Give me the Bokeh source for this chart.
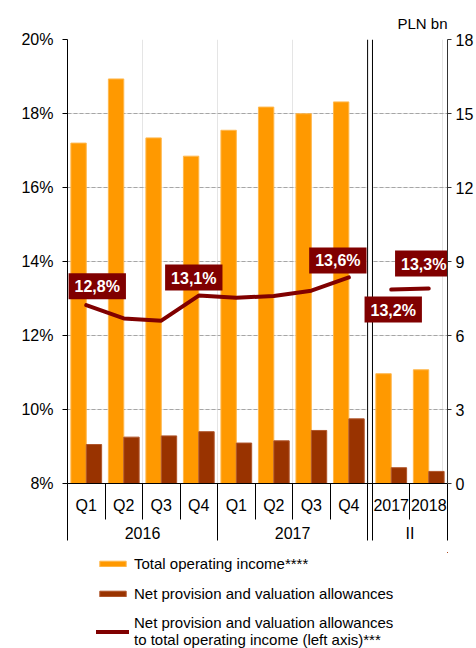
from bokeh.plotting import figure
from bokeh.layouts import column
from bokeh.models import (ColumnDataSource, Range1d, LinearAxis, FixedTicker, Span,
                          BoxAnnotation, Legend, LegendItem, Grid, PrintfTickFormatter)
from bokeh.embed import file_html
from bokeh.resources import INLINE
from bokeh.core.properties import value

# ---------------- data ----------------
periods = ["Q1", "Q2", "Q3", "Q4", "Q1", "Q2", "Q3", "Q4", "2017", "2018"]
groups = ["2016", "2016", "2016", "2016", "2017", "2017", "2017", "2017", "II", "II"]
panels = [0, 0, 0, 0, 0, 0, 0, 0, 1, 1]
income = [13.80, 16.40, 14.01, 13.27, 14.32, 15.26, 14.99, 15.47, 4.45, 4.61]      # PLN bn
provisions = [1.58, 1.88, 1.93, 2.10, 1.64, 1.73, 2.15, 2.62, 0.64, 0.49]          # PLN bn
ratio = [12.82, 12.46, 12.40, 13.08, 13.02, 13.07, 13.21, 13.57, 13.24, 13.27]     # %
labelled = [0, 3, 7, 8, 9]
pct_ticks = [8, 10, 12, 14, 16, 18, 20]
bn_ticks = [0, 3, 6, 9, 12, 15, 18]

legend_labels = ["Total operating income****",
                 "Net provision and valuation allowances",
                 "Net provision and valuation allowances\nto total operating income (left axis)***"]

# ---------------- layout helpers ----------------
GAP = 0.13
BAR_W = 0.41
FONT = "Liberation Sans"
ORANGE = "#FF9900"
BROWN = "#993300"
MAROON = "#800000"
ORANGE_EDGE = "#FFB84D"
BROWN_EDGE = "#B0552A"

n = len(periods)
left_e = [i + GAP * pn for i, pn in enumerate(panels)]
right_e = [l + 1 for l in left_e]
centers = [l + 0.5 for l in left_e]
cat_edges = sorted(set(left_e + right_e))

group_names = []
for g in groups:
    if g not in group_names:
        group_names.append(g)
group_edges, group_centers = set(), []
for g in group_names:
    idx = [i for i in range(n) if groups[i] == g]
    lo, hi = left_e[idx[0]], right_e[idx[-1]]
    group_edges.update([lo, hi])
    group_centers.append((lo + hi) / 2)
group_edges = sorted(group_edges)
panel_break = (max(right_e[i] for i in range(n) if panels[i] == 0),
               min(left_e[i] for i in range(n) if panels[i] == 1))

src = ColumnDataSource(dict(
    x_inc=[c - BAR_W / 2 for c in centers],
    x_prov=[c + BAR_W / 2 for c in centers],
    income=income, provisions=provisions))

p = figure(width=476, height=552, output_backend="svg", toolbar_location=None,
           x_range=Range1d(0, right_e[-1]), y_range=Range1d(pct_ticks[0], pct_ticks[-1]),
           x_axis_location=None, y_axis_location=None,
           min_border_left=67, min_border_right=27, min_border_top=39, min_border_bottom=69,
           outline_line_color=None, background_fill_color="white", border_fill_color="white")
p.extra_y_ranges = {"bn": Range1d(bn_ticks[0], bn_ticks[-1])}

# grid
p.add_layout(Grid(dimension=1, ticker=FixedTicker(ticks=pct_ticks),
                  grid_line_color="#A6A6A6", grid_line_dash="4 2", grid_line_width=1))
# panel gap
p.add_layout(BoxAnnotation(left=panel_break[0], right=panel_break[1], fill_color="white",
                           fill_alpha=1, line_color=None, level="underlay"))
for xb in panel_break:
    p.add_layout(Span(location=xb, dimension="height", line_color="black",
                      line_width=1, level="underlay"))

# bars
bar_kw_inc = dict(fill_color=ORANGE, line_color=ORANGE_EDGE, line_width=1)
bar_kw_prov = dict(fill_color=BROWN, line_color=BROWN_EDGE, line_width=1)
line_kw = dict(line_color=MAROON, line_width=4, line_cap="round", line_join="round")

p.vbar(x="x_inc", top="income", bottom=0, width=BAR_W, source=src, y_range_name="bn", **bar_kw_inc)
p.vbar(x="x_prov", top="provisions", bottom=0, width=BAR_W, source=src, y_range_name="bn", **bar_kw_prov)

# ratio line, one piece per panel
for pn in sorted(set(panels)):
    idx = [i for i in range(n) if panels[i] == pn]
    p.line([centers[i] for i in idx], [ratio[i] for i in idx], **line_kw)

# value labels
dxs = [11, -5, -11, 2, -5]
dys = [-19, -18, -17, 20, -25]
lab = ColumnDataSource(dict(
    x=[centers[i] for i in labelled], y=[ratio[i] for i in labelled],
    text=[f"{ratio[i]:.1f}".replace(".", ",") + "%" for i in labelled],
    dx=dxs, dy=dys))
p.text(x="x", y="y", text="text", source=lab, x_offset="dx", y_offset="dy",
       text_align="center", text_baseline="middle", text_color="white",
       text_font=value(FONT), text_font_style="bold", text_font_size="16px",
       background_fill_color=MAROON, padding=[6, 6, 5, 4])

# axes
ax_l = LinearAxis(ticker=FixedTicker(ticks=pct_ticks), formatter=PrintfTickFormatter(format="%d%%"),
                  axis_line_color="black", major_tick_out=5, major_tick_in=0,
                  minor_tick_out=0, minor_tick_in=0, major_label_standoff=9,
                  major_label_text_font=FONT, major_label_text_font_size="16px",
                  major_label_text_color="black", major_tick_line_color="black")
p.add_layout(ax_l, "left")
ax_r = LinearAxis(y_range_name="bn", ticker=FixedTicker(ticks=bn_ticks),
                  axis_line_color="#333333", major_tick_out=4, major_tick_in=0,
                  minor_tick_out=0, minor_tick_in=0, major_label_standoff=4,
                  major_label_text_font=FONT, major_label_text_font_size="16px",
                  major_label_text_color="black", major_tick_line_color="#333333")
p.add_layout(ax_r, "right")

ax_q = LinearAxis(ticker=FixedTicker(ticks=centers, minor_ticks=cat_edges),
                  major_label_overrides={c: t for c, t in zip(centers, periods)},
                  axis_line_color="black", major_tick_out=0, major_tick_in=0,
                  minor_tick_out=36, minor_tick_in=0, minor_tick_line_color="black",
                  major_label_standoff=-23, major_label_text_font=FONT,
                  major_label_text_font_size="16px", major_label_text_color="black")
p.add_layout(ax_q, "below")
ax_g = LinearAxis(ticker=FixedTicker(ticks=group_centers, minor_ticks=group_edges),
                  major_label_overrides={c: t for c, t in zip(group_centers, group_names)},
                  axis_line_color=None, axis_line_alpha=0, axis_line_width=0,
                  major_tick_out=0, major_tick_in=0, major_tick_line_color=None,
                  minor_tick_out=24, minor_tick_in=0, minor_tick_line_color="black",
                  major_label_standoff=-16, major_label_text_font=FONT,
                  major_label_text_font_size="16px", major_label_text_color="black")
p.add_layout(ax_g, "below")

# title (unit of right axis)
p.title.text = "PLN bn"
p.title.align = "right"
p.title.text_font = FONT
p.title.text_font_size = "15px"
p.title.text_font_style = "normal"
p.title.text_color = "black"
p.title.standoff = 16

# ---------------- legend (separate strip under the chart) ----------------
# the strip's ranges lie outside the data, so only its legend is seen
lg = figure(width=476, height=96, output_backend="svg", toolbar_location=None, title=None,
            x_range=Range1d(-3, -2), y_range=Range1d(-3, -2),
            x_axis_location=None, y_axis_location=None, min_border=0,
            outline_line_color=None, background_fill_color="white", border_fill_color="white")
lg.xgrid.visible = False
lg.ygrid.visible = False
lg.outline_line_alpha = 0
k_inc = lg.vbar(x="x_inc", top="income", bottom=0, width=BAR_W, source=src, **bar_kw_inc)
k_prov = lg.vbar(x="x_prov", top="provisions", bottom=0, width=BAR_W, source=src, **bar_kw_prov)
k_line = lg.line(centers, ratio, **line_kw)
legend = Legend(items=[LegendItem(label=legend_labels[0], renderers=[k_inc]),
                       LegendItem(label=legend_labels[1], renderers=[k_prov]),
                       LegendItem(label=legend_labels[2], renderers=[k_line])],
                location=(29, 0), orientation="vertical", margin=0, padding=0,
                border_line_color=None, background_fill_alpha=0,
                glyph_width=33, glyph_height=7, label_standoff=5, spacing=12,
                label_height=18, label_text_font=FONT, label_text_font_size="15px",
                label_text_color="black")
lg.add_layout(legend, "center")

open("out.html", "w").write(file_html(column(p, lg, spacing=0), INLINE))
